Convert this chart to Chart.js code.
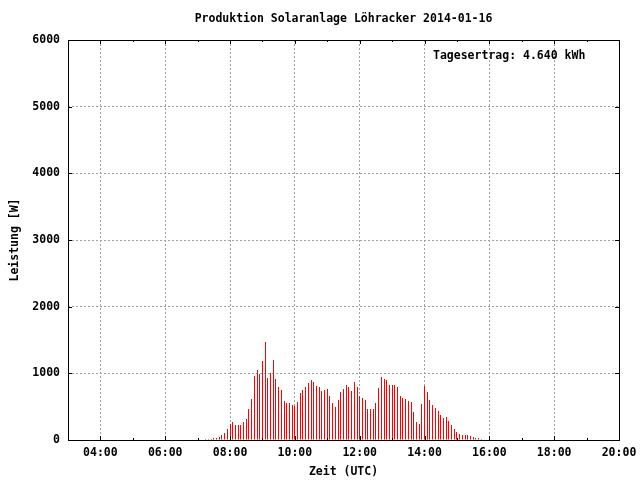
<!DOCTYPE html>
<html>
<head>
<meta charset="utf-8">
<script src="https://cdn.jsdelivr.net/npm/chart.js@4"></script>
<style>
  html, body { margin: 0; padding: 0; background: #fff; }
  #wrap { width: 640px; height: 480px; }
</style>
</head>
<body>
<div id="wrap"><canvas id="solarChart" width="640" height="480"></canvas></div>
<script>
// 5-minute readings, Leistung in W
const times = [
  '07:15', '07:20', '07:25', '07:30', '07:35', '07:40', '07:45', '07:50', '07:55',
  '08:00', '08:05', '08:10', '08:15', '08:20', '08:25', '08:30', '08:35', '08:40', '08:45', '08:50', '08:55',
  '09:00', '09:05', '09:10', '09:15', '09:20', '09:25', '09:30', '09:35', '09:40', '09:45', '09:50', '09:55',
  '10:00', '10:05', '10:10', '10:15', '10:20', '10:25', '10:30', '10:35', '10:40', '10:45', '10:50', '10:55',
  '11:00', '11:05', '11:10', '11:15', '11:20', '11:25', '11:30', '11:35', '11:40', '11:45', '11:50', '11:55',
  '12:00', '12:05', '12:10', '12:15', '12:20', '12:25', '12:30', '12:35', '12:40', '12:45', '12:50', '12:55',
  '13:00', '13:05', '13:10', '13:15', '13:20', '13:25', '13:30', '13:35', '13:40', '13:45', '13:50', '13:55',
  '14:00', '14:05', '14:10', '14:15', '14:20', '14:25', '14:30', '14:35', '14:40', '14:45', '14:50', '14:55',
  '15:00', '15:05', '15:10', '15:15', '15:20', '15:25', '15:30', '15:35', '15:40', '15:45'
];
const leistung = [
  15, 15, 15, 30, 30, 45, 75, 105, 165,
  240, 270, 225, 225, 225, 270, 315, 465, 615, 960, 1050, 990,
  1185, 1470, 930, 1005, 1200, 915, 795, 750, 585, 555, 555, 525,
  510, 570, 705, 750, 795, 855, 900, 870, 810, 795, 735, 750,
  765, 660, 555, 495, 600, 720, 765, 825, 795, 735, 870, 795,
  660, 630, 600, 465, 465, 465, 555, 780, 945, 915, 900, 825,
  825, 825, 795, 660, 630, 615, 585, 570, 420, 270, 240, 540,
  810, 720, 600, 525, 480, 435, 375, 330, 345, 285, 225, 165,
  120, 90, 75, 75, 75, 60, 45, 30, 30, 15
];
const xTicks = [4, 6, 8, 10, 12, 14, 16, 18, 20];
const yTicks = [0, 1000, 2000, 3000, 4000, 5000, 6000];
const tagesertrag = 'Tagesertrag: 4.640 kWh';

function toHours(t) {
    const parts = t.split(':');
    return Number(parts[0]) + Number(parts[1]) / 60;
}

Chart.defaults.font.family = '"DejaVu Sans Mono", monospace';
Chart.defaults.font.size = 11.5;
Chart.defaults.font.weight = 'bold';
Chart.defaults.color = '#000';

// snap the 1px impulses to whole pixels so they stay crisp
const snapPlugin = {
    id: 'snap',
    afterDatasetsUpdate(chart) {
        chart.getDatasetMeta(0).data.forEach(el => {
            el.x = Math.round(el.x - 0.5) + 0.5;
        });
    }
};

// frame, inward tick marks and the yield label (gnuplot look)
const framePlugin = {
    id: 'frame',
    afterDraw(chart) {
        const ctx = chart.ctx;
        const a = chart.chartArea;
        const xs = chart.scales.x;
        const ys = chart.scales.y;
        ctx.save();
        ctx.strokeStyle = '#000';
        ctx.lineWidth = 1;
        ctx.beginPath();
        for (let h = 4; h < 20; h++) {
            const x = Math.round(xs.getPixelForValue(h)) + 0.5;
            const len = h % 2 === 0 ? 4 : 2;
            ctx.moveTo(x, a.bottom);
            ctx.lineTo(x, a.bottom - len);
            ctx.moveTo(x, a.top);
            ctx.lineTo(x, a.top + len);
        }
        yTicks.slice(1, -1).forEach(v => {
            const y = Math.round(ys.getPixelForValue(v)) + 0.5;
            ctx.moveTo(a.left, y);
            ctx.lineTo(a.left + 4, y);
            ctx.moveTo(a.right, y);
            ctx.lineTo(a.right - 4, y);
        });
        ctx.stroke();
        ctx.strokeRect(Math.round(a.left) + 0.5, Math.round(a.top) + 0.5,
            Math.round(a.right - a.left), Math.round(a.bottom - a.top));

        ctx.fillStyle = '#000';
        ctx.font = 'bold 11.5px "DejaVu Sans Mono", monospace';
        ctx.textAlign = 'left';
        ctx.textBaseline = 'middle';
        ctx.fillText(tagesertrag, 433, 56);
        ctx.restore();
    }
};

const ctx = document.getElementById('solarChart').getContext('2d');
new Chart(ctx, {
    type: 'bar',
    data: {
        datasets: [{
            label: 'Leistung',
            data: times.map((t, i) => ({ x: toHours(t), y: leistung[i] })),
            backgroundColor: '#ff0000',
            borderWidth: 0,
            inflateAmount: 0,
            barThickness: 1
        }]
    },
    options: {
        responsive: false,
        animation: false,
        layout: { padding: { left: 0, right: 21, top: 0, bottom: 0 } },
        plugins: {
            legend: { display: false },
            tooltip: { enabled: false },
            title: {
                display: true,
                fullSize: false,
                text: 'Produktion Solaranlage Löhracker 2014-01-16',
                padding: { top: 12, bottom: 14.2 },
                font: { size: 11.5, weight: 'bold' }
            }
        },
        scales: {
            x: {
                type: 'linear',
                min: 3,
                max: 20,
                offset: false,
                afterBuildTicks: s => { s.ticks = xTicks.map(v => ({ value: v })); },
                afterFit: s => { s.height = 40; s.paddingLeft = 0; s.paddingRight = 0; },
                ticks: {
                    padding: 6,
                    maxRotation: 0,
                    autoSkip: false,
                    callback: v => String(v).padStart(2, '0') + ':00'
                },
                grid: { color: '#a0a0a0', drawTicks: false, offset: false },
                border: { display: false, dash: [2, 2] },
                title: { display: true, text: 'Zeit (UTC)', padding: { top: 0, bottom: 1 } }
            },
            y: {
                min: 0,
                max: 6000,
                afterBuildTicks: s => { s.ticks = yTicks.map(v => ({ value: v })); },
                afterFit: s => { s.width = 68; },
                ticks: { padding: 8, callback: v => String(v) },
                grid: { color: '#a0a0a0', drawTicks: false },
                border: { display: false, dash: [2, 2] },
                title: { display: true, text: 'Leistung [W]', padding: 8 }
            }
        }
    },
    plugins: [snapPlugin, framePlugin]
});
</script>
</body>
</html>
